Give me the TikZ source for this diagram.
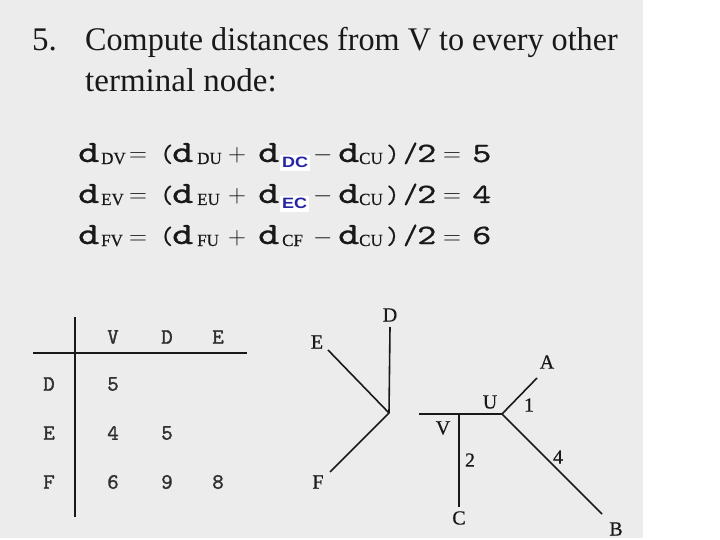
\documentclass[tikz,border=0pt]{standalone}
\usepackage{fontspec}
\usepackage{graphicx}
\setmainfont{Liberation Serif}
\newfontfamily\sansf{Liberation Sans}
\newfontfamily\eqf{lmmono10-regular.otf}[FakeBold=0.7]
\newfontfamily\tabf{lmmono10-regular.otf}[FakeBold=1.3]
\newfontfamily\labf{Liberation Serif}[FakeBold=0.6]
\definecolor{bggray}{RGB}{236,236,236}
\definecolor{subblue}{RGB}{38,38,165}
\definecolor{ink}{RGB}{25,25,25}
\newcommand\sx[1]{\scalebox{1.3}[1]{#1}}
\newcommand\eqrow[6]{%
  \node[eqt] (#1d1) at (78,#2) {\sx{d}};
  \node[subt] (#1s1) at (101,{#2+2}) {#3};
  \node[opt] (#1eq1) at (129,#2) {$=$};
  \node[part] (#1lp) at (160,#2) {(};
  \node[eqt] (#1d2) at (172,#2) {\sx{d}};
  \node[subt] (#1s2) at (197,{#2+2}) {#4};
  \node[opt] (#1pl) at (228,#2) {$+$};
  \node[eqt] (#1d3) at (258,#2) {\sx{d}};
  \node[opt] (#1mi) at (313,#2) {$-$};
  \node[eqt] (#1d4) at (338,#2) {\sx{d}};
  \node[subt] (#1s4) at (359,{#2+2}) {CU};
  \node[part] (#1rp) at (386,#2) {)};
  \node[digt] (#1sl) at (403,#2) {/};
  \node[digt] (#1two) at (417,#2) {\sx{2}};
  \node[opt] (#1eq2) at (443,#2) {$=$};
  \node[digt] (#1res) at (472,#2) {\sx{#6}};
}
\begin{document}
\begin{tikzpicture}[x=1pt,y=-1pt,
  every node/.style={inner sep=0pt, text=ink},
  titlet/.style={anchor=base west, font=\fontsize{33}{33}\selectfont},
  eqt/.style={anchor=base west, font=\eqf\fontsize{31}{31}\selectfont},
  digt/.style={anchor=base west, font=\eqf\fontsize{28}{28}\selectfont},
  part/.style={anchor=base west, font=\eqf\fontsize{25}{25}\selectfont},
  opt/.style={anchor=base west, font=\fontsize{30}{30}\selectfont},
  subt/.style={anchor=base west, font=\labf\fontsize{17}{17}\selectfont},
  bluesub/.style={anchor=base west, fill=white, inner xsep=2pt, inner ysep=2.5pt,
    text=subblue, font=\sansf\bfseries\fontsize{15}{15}\selectfont},
  tabt/.style={font=\tabf\fontsize{22}{22}\selectfont, text=ink!90},
  lab/.style={font=\labf\fontsize{20}{20}\selectfont},
  edge/.style={draw=ink, line width=1.6pt},
  heavy/.style={draw=ink, line width=2.6pt},
  rule/.style={draw=ink, line width=1.8pt}]
\useasboundingbox (0,0) rectangle (720,540);
\fill[bggray] (0,0) rectangle (643,538);
% title
\node[titlet] (num) at (32,51) {5.};
\node[titlet] (t1) at (85,51) {\scalebox{0.975}[1]{Compute distances from V to every other}};
\node[titlet] (t2) at (85,92) {terminal node:};
% equations
\eqrow{a}{162}{DV}{DU}{}{5}
\eqrow{b}{203}{EV}{EU}{}{4}
\eqrow{c}{244}{FV}{FU}{}{6}
\node[bluesub] (a3) at (280,168) {\scalebox{1.2}[1]{DC}};
\node[bluesub] (b3) at (280,209) {\scalebox{1.2}[1]{EC}};
\node[subt] (c3) at (282,246) {CF};
% table
\coordinate (hl) at (33,353);
\coordinate (hr) at (247,353);
\coordinate (vt) at (75,317);
\coordinate (vb) at (75,517);
\draw[rule] (hl) -- (hr);
\draw[rule] (vt) -- (vb);
\node[tabt] (hV) at (113,337) {V};
\node[tabt] (hD) at (167,337) {D};
\node[tabt] (hE) at (218,337) {E};
\node[tabt] (rD) at (49,384) {D};
\node[tabt] (rE) at (49,433) {E};
\node[tabt] (rF) at (49,482) {F};
\node[tabt] (vDV) at (113,384) {5};
\node[tabt] (vEV) at (113,433) {4};
\node[tabt] (vED) at (167,433) {5};
\node[tabt] (vFV) at (113,482) {6};
\node[tabt] (vFD) at (167,482) {9};
\node[tabt] (vFE) at (218,482) {8};
% tree 1
\node[lab] (D) at (390,315) {D};
\node[lab] (E) at (317,342) {E};
\node[lab] (F) at (318,482) {F};
\coordinate (J1) at (389,413);
\coordinate (Dend) at (390,327);
\coordinate (Eend) at (328,350);
\coordinate (Fend) at (330,472);
\draw[edge] (Dend) -- (J1);
\draw[edge] (Eend) -- (J1);
\draw[edge] (Fend) -- (J1);
% tree 2
\coordinate (Vl) at (419,414);
\coordinate (Uj) at (502,414);
\coordinate (Vj) at (459,414);
\coordinate (Cend) at (459,507);
\coordinate (Aend) at (537,378);
\coordinate (Bend) at (602,514);
\draw[heavy] (Vl) -- (Uj);
\draw[edge] (Vj) -- (Cend);
\draw[edge] (Uj) -- (Aend);
\draw[edge] (Uj) -- (Bend);
\node[lab] (U) at (490,402) {U};
\node[lab] (V) at (443,428) {V};
\node[lab] (C) at (459,518) {C};
\node[lab] (A) at (547,362) {A};
\node[lab] (B) at (616,529) {B};
\node[lab] (l1) at (529,405) {1};
\node[lab] (l2) at (470,460) {2};
\node[lab] (l4) at (558,457) {4};
\end{tikzpicture}
\end{document}
